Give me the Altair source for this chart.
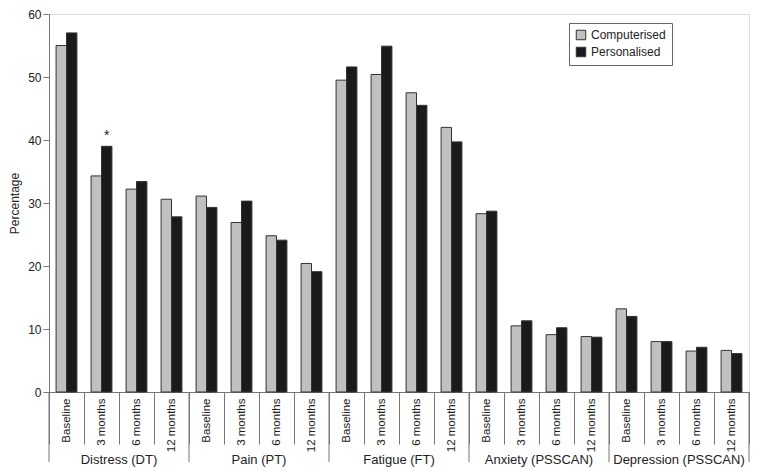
import altair as alt
import pandas as pd

groups = ["Distress (DT)", "Pain (PT)", "Fatigue (FT)", "Anxiety (PSSCAN)", "Depression (PSSCAN)"]
times = ["Baseline", "3 months", "6 months", "12 months"]
series = ["Computerised", "Personalised"]

computerised = [55.0, 34.3, 32.2, 30.6,
                31.1, 26.9, 24.8, 20.4,
                49.5, 50.4, 47.5, 42.0,
                28.3, 10.5, 9.1, 8.8,
                13.2, 8.0, 6.5, 6.6]
personalised = [57.0, 39.0, 33.4, 27.8,
                29.3, 30.3, 24.1, 19.1,
                51.6, 54.9, 45.5, 39.7,
                28.7, 11.3, 10.2, 8.7,
                12.0, 8.0, 7.1, 6.1]

keys = [f"{g}|{t}" for g in groups for t in times]
rows = []
for i, k in enumerate(keys):
    rows.append({"key": k, "series": series[0], "value": computerised[i]})
    rows.append({"key": k, "series": series[1], "value": personalised[i]})
df = pd.DataFrame(rows)

W, H = 700, 378
FONT = "Liberation Sans"

xscale = alt.Scale(domain=keys, paddingInner=0, paddingOuter=0)

bars = alt.Chart(df).mark_bar(stroke="#333333", strokeWidth=1).encode(
    x=alt.X("key:N", scale=xscale, sort=keys,
            axis=alt.Axis(title=None, labelAngle=270, labelExpr="split(datum.label, '|')[1]",
                          tickBand="extent", tickSize=52, labelPadding=-46,
                          labelFontSize=11.5, labelColor="#222222", labelFont=FONT,
                          domainColor="#777777", tickColor="#777777", labelBaseline="middle",
                          labelAlign="right")),
    xOffset=alt.XOffset("series:N", scale=alt.Scale(domain=series, paddingOuter=0.68, paddingInner=0)),
    y=alt.Y("value:Q", scale=alt.Scale(domain=[0, 60]),
            axis=alt.Axis(title="Percentage", values=[0, 10, 20, 30, 40, 50, 60], grid=False,
                          tickSize=6, labelFontSize=12, labelColor="#222222", labelFont=FONT,
                          titleFont=FONT, titleFontSize=12, titleFontWeight="normal",
                          titleColor="#222222", domainColor="#777777", tickColor="#777777",
                          titlePadding=6)),
    color=alt.Color("series:N", scale=alt.Scale(domain=series, range=["#c0c0c0", "#1a1a1a"]),
                    legend=alt.Legend(title=None, orient="none", legendX=520, legendY=9,
                                      strokeColor="#666666", padding=6, symbolType="square",
                                      symbolSize=90, symbolStrokeColor="#333333",
                                      symbolStrokeWidth=1, labelFontSize=12, labelFont=FONT,
                                      labelColor="#222222", rowPadding=3)),
)

star_df = pd.DataFrame({"key": [keys[1]], "series": [series[1]], "value": [personalised[1]], "label": ["*"]})
star = alt.Chart(star_df).mark_text(fontSize=14, dy=-10, font=FONT, color="#222222").encode(
    x=alt.X("key:N", scale=xscale, sort=keys),
    xOffset=alt.XOffset("series:N"),
    y=alt.Y("value:Q"),
    text="label:N",
)

start_df = pd.DataFrame({"key": [f"{g}|{times[0]}" for g in groups]})
start_rules = alt.Chart(start_df).mark_rule(color="#777777", strokeWidth=1).encode(
    x=alt.X("key:N", scale=xscale, sort=keys, bandPosition=0),
    y=alt.value(H), y2=alt.value(H + 70),
)
end_df = pd.DataFrame({"key": [keys[-1]]})
end_rule = alt.Chart(end_df).mark_rule(color="#777777", strokeWidth=1).encode(
    x=alt.X("key:N", scale=xscale, sort=keys, bandPosition=1),
    y=alt.value(H), y2=alt.value(H + 70),
)

glabel_df = pd.DataFrame({"key": [f"{g}|{times[2]}" for g in groups], "group": groups})
glabels = alt.Chart(glabel_df).mark_text(fontSize=13, font=FONT, color="#222222", baseline="top").encode(
    x=alt.X("key:N", scale=xscale, sort=keys, bandPosition=0),
    y=alt.value(H + 62),
    text="group:N",
)

chart = alt.layer(bars, star, start_rules, end_rule, glabels).properties(
    width=W, height=H, padding={"left": 0, "top": 0, "right": 0, "bottom": 0}
).configure_view(stroke="#777777", strokeWidth=1).configure(background="white")

chart.save("out.html", embed_options={"renderer": "svg", "actions": False})
